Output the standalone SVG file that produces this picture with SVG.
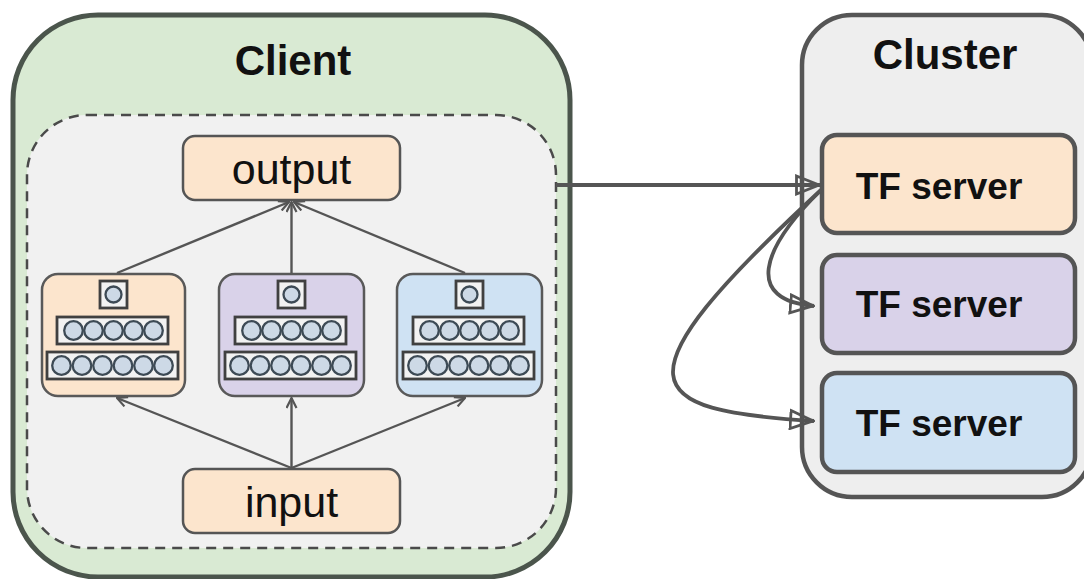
<svg xmlns="http://www.w3.org/2000/svg" width="1084" height="579" viewBox="0 0 1084 579">
<style>
.title{font-family:"Liberation Sans",Arial,sans-serif;font-weight:bold;font-size:42px;fill:#111;text-anchor:middle}
.lbl{font-family:"Liberation Sans",Arial,sans-serif;font-size:43px;fill:#111;text-anchor:middle}
.tf{font-family:"Liberation Sans",Arial,sans-serif;font-weight:bold;font-size:37px;fill:#111;text-anchor:middle}
.peach{fill:#fce5cd}
.lav{fill:#d9d2e9}
.blue{fill:#cfe2f3}
.tfbox{stroke:#555;stroke-width:4.5}
.io{stroke:#555;stroke-width:2.5}
.net{stroke:#595959;stroke-width:2.5}
.layer{fill:#f2f2f2;stroke:#404040;stroke-width:2.8}
.unit{fill:#cdd9e6;stroke:#3d4a55;stroke-width:2.3}
.conn{fill:none;stroke:#555;stroke-width:3.8}
.inner{fill:none;stroke:#555;stroke-width:2.4}
</style>
<defs>
<marker id="tri" viewBox="0 0 26 22" refX="25" refY="11" markerWidth="26" markerHeight="22" orient="auto" markerUnits="userSpaceOnUse">
<path d="M1.5,2 L24,11 L1.5,20 z" fill="none" stroke="#555" stroke-width="2.8"/>
</marker>
<marker id="chev" viewBox="0 0 12 12" refX="11" refY="6" markerWidth="12" markerHeight="12" orient="auto" markerUnits="userSpaceOnUse">
<path d="M1,1 L11,6 L1,11" fill="none" stroke="#555" stroke-width="2.2"/>
</marker>
<g id="net-icon">
<rect class="layer" x="-13.5" y="7" width="27" height="27"/>
<circle class="unit" cx="0" cy="20.5" r="8"/>
<rect class="layer" x="-56.5" y="43" width="111" height="27"/>
<circle class="unit" cx="-40" cy="56.5" r="9.3"/>
<circle class="unit" cx="-20" cy="56.5" r="9.3"/>
<circle class="unit" cx="0" cy="56.5" r="9.3"/>
<circle class="unit" cx="20" cy="56.5" r="9.3"/>
<circle class="unit" cx="40" cy="56.5" r="9.3"/>
<rect class="layer" x="-66.5" y="78" width="131" height="27"/>
<circle class="unit" cx="-52" cy="91.5" r="9.3"/>
<circle class="unit" cx="-31.5" cy="91.5" r="9.3"/>
<circle class="unit" cx="-11" cy="91.5" r="9.3"/>
<circle class="unit" cx="9.5" cy="91.5" r="9.3"/>
<circle class="unit" cx="30" cy="91.5" r="9.3"/>
<circle class="unit" cx="50" cy="91.5" r="9.3"/>
</g>
</defs>

<g id="client">
<rect x="13" y="15" width="557" height="562" rx="85" ry="85" fill="#d9ead3" stroke="#4b554c" stroke-width="5"/>
<rect x="27" y="115" width="529" height="433" rx="60" ry="60" fill="#f1f1f1" stroke="#4a4a4a" stroke-width="2.5" stroke-dasharray="10 7"/>
<text class="title" x="293" y="75">Client</text>
</g>

<g id="cluster">
<rect x="802" y="15" width="290" height="482" rx="50" ry="50" fill="#eeeeee" stroke="#555" stroke-width="4.5"/>
<text class="title" x="945" y="69">Cluster</text>
</g>

<g id="output">
<rect class="peach io" x="183" y="136" width="217" height="64" rx="12" ry="12"/>
<text class="lbl" x="291.5" y="184">output</text>
</g>

<g id="input">
<rect class="peach io" x="183" y="469" width="217" height="64" rx="12" ry="12"/>
<text class="lbl" x="291.5" y="517">input</text>
</g>

<g id="model1">
<rect class="peach net" x="42" y="274" width="143" height="122" rx="16" ry="16"/>
<use href="#net-icon" x="113.5" y="274"/>
</g>
<g id="model2">
<rect class="lav net" x="219" y="274" width="145" height="122" rx="16" ry="16"/>
<use href="#net-icon" x="291.5" y="274"/>
</g>
<g id="model3">
<rect class="blue net" x="397" y="274" width="145" height="122" rx="16" ry="16"/>
<use href="#net-icon" x="469.5" y="274"/>
</g>

<g id="tf1">
<rect class="peach tfbox" x="822" y="135" width="253" height="98" rx="15" ry="15"/>
<text class="tf" x="939" y="199">TF server</text>
</g>
<g id="tf2">
<rect class="lav tfbox" x="822" y="255" width="253" height="98" rx="15" ry="15"/>
<text class="tf" x="939" y="317">TF server</text>
</g>
<g id="tf3">
<rect class="blue tfbox" x="822" y="373" width="253" height="99" rx="15" ry="15"/>
<text class="tf" x="939" y="436">TF server</text>
</g>

<g id="connectors">
<line class="inner" x1="117" y1="273" x2="289" y2="202" marker-end="url(#chev)"/>
<line class="inner" x1="291.5" y1="273" x2="291.5" y2="202" marker-end="url(#chev)"/>
<line class="inner" x1="465" y1="273" x2="294" y2="202" marker-end="url(#chev)"/>
<line class="inner" x1="291.5" y1="468" x2="117" y2="398" marker-end="url(#chev)"/>
<line class="inner" x1="291.5" y1="468" x2="291.5" y2="398" marker-end="url(#chev)"/>
<line class="inner" x1="291.5" y1="468" x2="465" y2="398" marker-end="url(#chev)"/>
<line class="conn" x1="556" y1="185" x2="820" y2="185" marker-end="url(#tri)"/>
<path class="conn" d="M821,190 C760,250 745,300 814,306" marker-end="url(#tri)"/>
<path class="conn" d="M821,190 C610,385 640,410 814,421" marker-end="url(#tri)"/>
</g>
</svg>
